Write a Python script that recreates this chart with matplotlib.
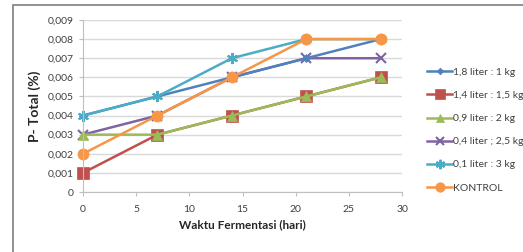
import matplotlib.pyplot as plt
from matplotlib.patches import Rectangle
from matplotlib.ticker import FuncFormatter

# data
hari = [0, 7, 14, 21, 28]
labels = ['1,8 liter : 1 kg', '1,4 liter : 1,5 kg', '0,9 liter : 2 kg',
          '0,4 liter ; 2,5 kg', '0,1 liter : 3 kg', 'KONTROL']
s1 = [0.004, 0.005, 0.006, 0.007, 0.008]
s2 = [0.001, 0.003, 0.004, 0.005, 0.006]
s3 = [0.003, 0.003, 0.004, 0.005, 0.006]
s4 = [0.003, 0.004, 0.006, 0.007, 0.007]
s5 = [0.004, 0.005, 0.007, 0.008, 0.008]
s6 = [0.002, 0.004, 0.006, 0.008, 0.008]
series = [s1, s2, s3, s4, s5, s6]

colors = ['#4F81BD', '#C0504D', '#9BBB59', '#8064A2', '#4BACC6', '#F79646']
markers = ['D', 's', '^', 'x', (6, 2, 0), 'o']
msizes = [4, 8, 7, 7, 8, 8]

plt.rcParams['font.family'] = ['Lato', 'DejaVu Sans']

fig = plt.figure(figsize=(5.23, 2.52), dpi=100)
ax = fig.add_axes([83/523, 1-192/252, (402-83)/523, (192-20)/252])

# draw in an order that leaves orange on top like the original
order = [3, 0, 1, 2, 4, 5]
lines = {}
for i in order:
    mk = markers[i]
    ln, = ax.plot(hari, series[i], color=colors[i], marker=mk, markersize=msizes[i],
                  linewidth=1.8, markeredgewidth=1.5 if mk in ('x', (6, 2, 0)) else 0.5,
                  markeredgecolor=colors[i], label=labels[i], clip_on=False)
    lines[i] = ln

ax.set_xlim(0, 30)
ax.set_ylim(0, 0.009)
ax.set_xticks([0, 5, 10, 15, 20, 25, 30])
ax.set_yticks([i * 0.001 for i in range(10)])
ax.yaxis.set_major_formatter(FuncFormatter(
    lambda v, p: '0' if abs(v) < 1e-12 else f'{v:.3f}'.replace('.', ',')))
ax.grid(axis='y', color='#D9D9D9', linewidth=1)
ax.set_axisbelow(True)
for sp in ['top', 'right']:
    ax.spines[sp].set_visible(False)
ax.spines['left'].set_color('#BFBFBF')
ax.spines['bottom'].set_color('#BFBFBF')
ax.tick_params(axis='both', labelsize=7.5, colors='#BFBFBF', labelcolor='#404040',
               length=3, direction='out')
ax.tick_params(axis='x', pad=6)

ax.set_xlabel('Waktu Fermentasi (hari)', fontsize=8.5, fontweight='bold', color='#262626')
ax.set_ylabel('P- Total (%)', fontsize=10, fontweight='bold', color='#262626', labelpad=5)

handles = [lines[i] for i in range(6)]
leg = ax.legend(handles, labels, loc='center left', bbox_to_anchor=(1.05, 0.36),
                frameon=False, fontsize=7.5, handlelength=2.4, labelspacing=1.33,
                handletextpad=0.1, markerscale=0.85)
for t in leg.get_texts():
    t.set_color('#404040')

# outer chart frame
fig.add_artist(Rectangle((13/523, -0.1), 1.0, 1 - 5/252 + 0.1, transform=fig.transFigure,
                         fill=False, edgecolor='#7F7F7F', linewidth=1.2))

fig.savefig('out.png', dpi=100)
